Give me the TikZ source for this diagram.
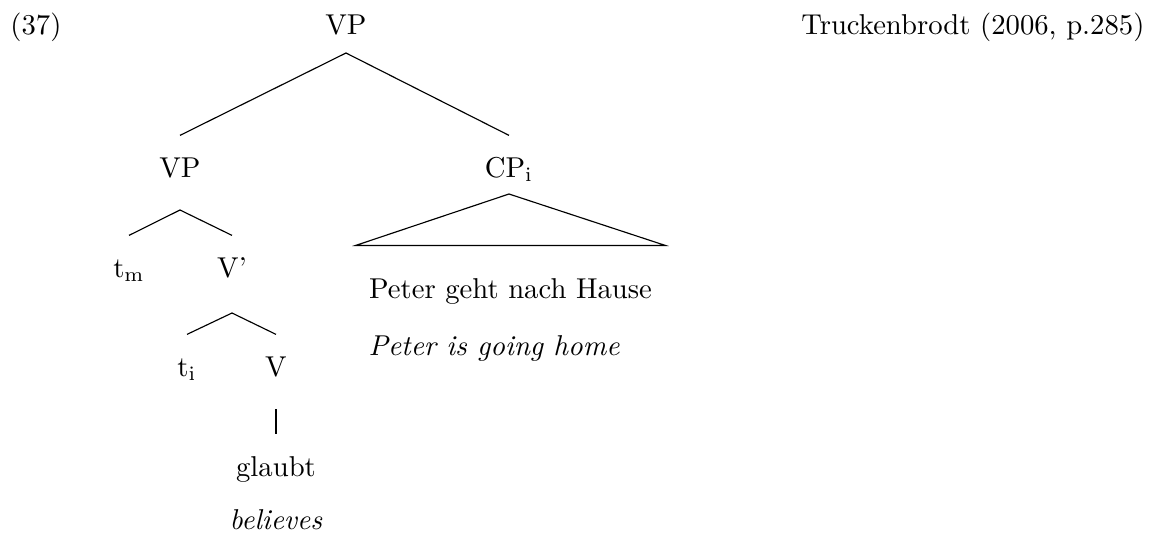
\documentclass[tikz,border=0pt]{standalone}
\usetikzlibrary{calc}
\begin{document}
\begin{tikzpicture}[x=0.3484pt,y=-0.3484pt,
  lbl/.style={anchor=base,inner sep=0pt},
  kid/.style={anchor=base,inner xsep=0pt,inner ysep=7.3pt,text height=7pt,text depth=0pt},
  branch/.style={line width=0.4pt,line join=miter}]
\useasboundingbox (0,0) rectangle (1150,535);

% example number and source
\node[lbl] (exnum) at (36,34) {(37)};
\node[lbl,anchor=base east] (src) at (1145,34) {Truckenbrodt (2006, p.285)};

% tree nodes
\node[lbl] (top) at (346,34) {VP};
\node[kid] (vp) at (180,177) {VP};
\node[kid] (cp) at (509,177) {CP$_\mathrm{i}$};
\node[kid] (tm) at (129,277) {$\mathrm{t}_\mathrm{m}$};
\node[kid] (vbar) at (232,277) {V'};
\node[kid] (ti) at (187,376) {$\mathrm{t}_\mathrm{i}$};
\node[kid] (v) at (276,376) {V};
\node[kid] (verb) at (276,476) {glaubt};
\node[lbl] (verbgl) at (276,529) {\textit{believes}};
\node[anchor=base,inner xsep=4.5pt,inner ysep=11.1pt,text height=7pt,text depth=0pt] (cpword) at (510.5,298) {Peter geht nach Hause};
\node[lbl,anchor=base west] (cpgl) at (368,355) {\textit{Peter is going home}};

% branching points below the mothers
\coordinate (topfork) at ($(top.base)+(0,19)$);
\coordinate (vpfork) at ($(vp.base)+(0,33)$);
\coordinate (cpfork) at ($(cp.base)+(0,17)$);
\coordinate (vbarfork) at ($(vbar.base)+(0,36)$);
\coordinate (vfork) at ($(v.base)+(0,33)$);

% branches
\draw[branch] (vp.north) -- (topfork) -- (cp.north);
\draw[branch] (tm.north) -- (vpfork) -- (vbar.north);
\draw[branch] (ti.north) -- (vbarfork) -- (v.north);
\draw[branch] (vfork) -- (verb.north);
\draw[branch] (cpfork) -- (cpword.north west) -- (cpword.north east) -- cycle;
\end{tikzpicture}
\end{document}
